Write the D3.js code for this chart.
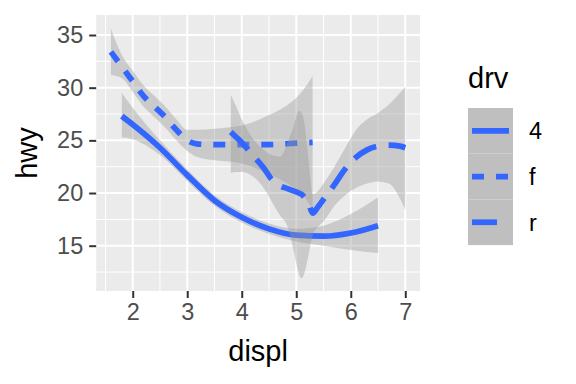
<!DOCTYPE html>
<html>
<head>
<meta charset="utf-8">
<script src="https://cdn.jsdelivr.net/npm/d3@7"></script>
<style>
  body { margin: 0; background: #fff; }
  svg { display: block; font-family: "Liberation Sans", Arial, sans-serif; }
</style>
</head>
<body>
<svg id="chart"></svg>
<script>
// loess fits of hwy ~ displ, one per drv
var drvLevels = ['4', 'f', 'r'];

var x4   = [1.8, 2.0, 2.5, 3.0, 3.5, 4.0, 4.5, 5.0, 5.5, 6.0, 6.5];
var fit4 = [27.3, 26.5, 24.3, 21.7, 19.3, 17.7, 16.6, 16.0, 15.9, 16.2, 16.9];
var lo4  = [25.3, 25.1, 23.6, 21.15, 18.8, 17.2, 16.1, 15.4, 15.0, 14.6, 14.3];
var hi4  = [29.5, 28.1, 25.0, 22.25, 19.8, 18.2, 17.1, 16.6, 16.9, 18.0, 19.6];

var xf   = [1.6, 1.8, 2.0, 2.2, 2.4, 2.6, 2.8, 3.0, 3.2, 3.5, 4.0, 4.5, 4.9, 5.1, 5.3];
var fitf = [33.4, 32.0, 30.6, 29.2, 28.2, 27.2, 26.0, 25.0, 24.65, 24.6, 24.6, 24.6, 24.7, 24.75, 24.8];
var lof  = [31.2, 30.9, 29.6, 28.2, 27.2, 26.2, 25.0, 24.0, 23.4, 23.1, 22.8, 21.8, 20.7, 19.9, 18.5];
var hif  = [35.6, 33.1, 31.6, 30.2, 29.2, 28.2, 27.0, 26.0, 26.0, 26.1, 26.4, 27.4, 28.6, 29.6, 31.1];

var xr   = [3.8, 3.9, 4.0, 4.2, 4.4, 4.55, 4.7, 4.85, 4.95, 5.05, 5.1, 5.15, 5.22, 5.3, 5.4, 5.5, 5.7, 5.9, 6.1, 6.3, 6.5, 6.7, 6.9, 7.0];
var fitr = [25.8, 25.3, 24.8, 23.6, 22.4, 21.3, 20.7, 20.4, 20.2, 20.0, 19.85, 19.6, 19.1, 18.1, 18.7, 19.4, 20.8, 22.3, 23.4, 24.1, 24.45, 24.55, 24.45, 24.3];
var lor  = [21.9, 22.0, 22.0, 21.6, 20.5, 19.2, 17.9, 16.7, 14.6, 12.3, 11.9, 12.4, 14.0, 16.0, 16.8, 17.3, 18.8, 19.8, 20.5, 20.9, 21.1, 20.9, 19.5, 18.4];
var hir  = [29.3, 28.2, 27.0, 25.2, 24.1, 23.6, 23.45, 24.9, 26.3, 27.8, 27.6, 26.6, 23.5, 19.9, 20.2, 20.9, 22.5, 24.3, 26.0, 27.0, 27.6, 28.4, 29.5, 30.1];

var xTicks = [2, 3, 4, 5, 6, 7];
var xMinor = [1.5, 2.5, 3.5, 4.5, 5.5, 6.5];
var yTicks = [15, 20, 25, 30, 35];
var yMinor = [12.5, 17.5, 22.5, 27.5, 32.5];

var width = 576, height = 384;
var panel = {left: 96.2, right: 420, top: 15, bottom: 291};
var blue = '#3366FF';
var dashes = {'4': null, 'f': '12,12', 'r': '25,12.5'};

function makeSeries(key, xs, fit, lo, hi){
  return {
    key: key,
    points: xs.map(function(x, i){ return {x: x, y: fit[i], lo: lo[i], hi: hi[i]}; })
  };
}

var series = [
  makeSeries('4', x4, fit4, lo4, hi4),
  makeSeries('f', xf, fitf, lof, hif),
  makeSeries('r', xr, fitr, lor, hir)
];

var svg = d3.select('#chart').attr('width', width).attr('height', height);

var x = d3.scaleLinear().domain([1.33, 7.27]).range([panel.left, panel.right]);
var y = d3.scaleLinear().domain([10.7, 36.9]).range([panel.bottom, panel.top]);

// panel
svg.append('rect')
  .attr('x', panel.left).attr('y', panel.top)
  .attr('width', panel.right - panel.left).attr('height', panel.bottom - panel.top)
  .attr('fill', '#EBEBEB');

var grid = svg.append('g');
grid.selectAll('.xminor').data(xMinor).enter().append('line')
  .attr('x1', x).attr('x2', x).attr('y1', panel.top).attr('y2', panel.bottom)
  .attr('stroke', '#fff').attr('stroke-width', 1);
grid.selectAll('.yminor').data(yMinor).enter().append('line')
  .attr('y1', y).attr('y2', y).attr('x1', panel.left).attr('x2', panel.right)
  .attr('stroke', '#fff').attr('stroke-width', 1);
grid.selectAll('.xmajor').data(xTicks).enter().append('line')
  .attr('x1', x).attr('x2', x).attr('y1', panel.top).attr('y2', panel.bottom)
  .attr('stroke', '#fff').attr('stroke-width', 2);
grid.selectAll('.ymajor').data(yTicks).enter().append('line')
  .attr('y1', y).attr('y2', y).attr('x1', panel.left).attr('x2', panel.right)
  .attr('stroke', '#fff').attr('stroke-width', 2);

// smooths: ribbon then line, per group
var area = d3.area()
  .x(function(d){ return x(d.x); })
  .y0(function(d){ return y(d.lo); })
  .y1(function(d){ return y(d.hi); })
  .curve(d3.curveMonotoneX);
var line = d3.line()
  .x(function(d){ return x(d.x); })
  .y(function(d){ return y(d.y); })
  .curve(d3.curveMonotoneX);

var smooth = svg.append('g')
  .selectAll('g').data(series).enter().append('g');
smooth.append('path')
  .attr('d', function(s){ return area(s.points); })
  .attr('fill', '#999999').attr('fill-opacity', 0.4);
smooth.append('path')
  .attr('d', function(s){ return line(s.points); })
  .attr('fill', 'none').attr('stroke', blue).attr('stroke-width', 5.7)
  .attr('stroke-dasharray', function(s){ return dashes[s.key]; });

// axes
var xAxis = svg.append('g')
  .attr('transform', 'translate(0,' + panel.bottom + ')')
  .call(d3.axisBottom(x).tickValues(xTicks).tickSize(7).tickPadding(5).tickFormat(d3.format('d')));
var yAxis = svg.append('g')
  .attr('transform', 'translate(' + panel.left + ',0)')
  .call(d3.axisLeft(y).tickValues(yTicks).tickSize(7).tickPadding(6).tickFormat(d3.format('d')));

[xAxis, yAxis].forEach(function(ax){
  ax.select('.domain').remove();
  ax.selectAll('line').attr('stroke', '#333333').attr('stroke-width', 2);
  ax.selectAll('text').attr('fill', '#4D4D4D')
    .style('font-size', '23.5px').style('font-family', '"Liberation Sans", Arial, sans-serif');
});

svg.append('text')
  .attr('x', (panel.left + panel.right) / 2).attr('y', 361)
  .attr('text-anchor', 'middle').style('font-size', '29px')
  .text('displ');
svg.append('text')
  .attr('transform', 'translate(37,' + (panel.top + panel.bottom) / 2 + ') rotate(-90)')
  .attr('text-anchor', 'middle').style('font-size', '29px')
  .text('hwy');

// legend
var legend = svg.append('g').attr('transform', 'translate(468,108)');
var keyH = 45.7, keyW = 45;
legend.append('text').attr('x', 0).attr('y', -20).style('font-size', '29px').text('drv');
var keys = legend.selectAll('.key').data(drvLevels).enter().append('g')
  .attr('transform', function(d, i){ return 'translate(0,' + i * keyH + ')'; });
keys.append('rect')
  .attr('width', keyW).attr('height', keyH).attr('fill', '#BFBFBF');
keys.append('line')
  .attr('x1', 4).attr('x2', keyW - 4)
  .attr('y1', keyH / 2).attr('y2', keyH / 2)
  .attr('stroke', blue).attr('stroke-width', 5.7)
  .attr('stroke-dasharray', function(d){ return dashes[d]; });
keys.append('text')
  .attr('x', keyW + 16).attr('y', keyH / 2).attr('dy', '0.36em')
  .style('font-size', '23.5px')
  .text(function(d){ return d; });
</script>
</body>
</html>
